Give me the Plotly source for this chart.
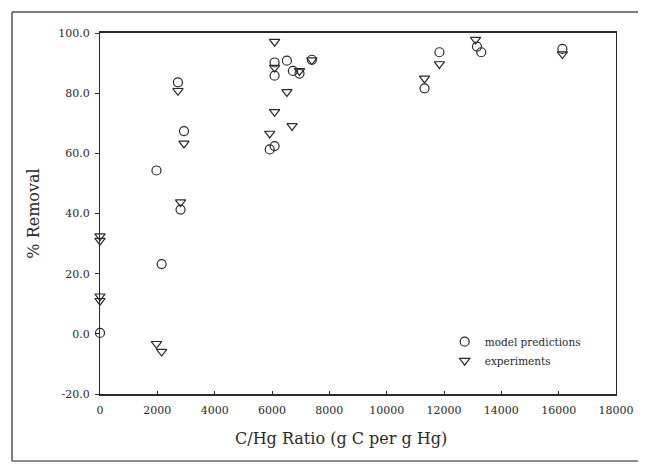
import plotly.graph_objects as go

# model predictions (circles)
model_x = [0, 1970, 2150, 2720, 2810, 2930, 5920, 6090, 6090, 6090, 6520, 6730, 6960, 7390,
           11320, 11840, 13150, 13300, 16130]
model_y = [0.3, 54.3, 23.2, 83.6, 41.3, 67.4, 61.3, 62.4, 85.8, 90.2, 90.8, 87.4, 86.5, 91.1,
           81.6, 93.6, 95.5, 93.6, 94.7]

# experiments (triangles)
exp_x = [0, 0, 0, 0, 1970, 2150, 2720, 2810, 2930, 5920, 6090, 6090, 6090, 6520, 6700, 6960,
         7390, 11320, 11840, 13100, 16130]
exp_y = [32.5, 31.0, 12.5, 11.0, -3.3, -5.9, 80.8, 43.8, 63.3, 66.6, 73.8, 97.1, 88.5, 80.4,
         69.1, 87.4, 91.0, 84.9, 89.7, 97.8, 93.0]

x_ticks = [0, 2000, 4000, 6000, 8000, 10000, 12000, 14000, 16000, 18000]
y_ticks = [-20, 0, 20, 40, 60, 80, 100]

FONT = "DejaVu Serif"
INK = "#2a2a2a"

fig = go.Figure()
fig.add_trace(go.Scatter(
    x=model_x, y=model_y, mode="markers", name="model predictions",
    marker=dict(symbol="circle-open", size=9, color=INK, line=dict(width=1.2, color=INK)),
    cliponaxis=False,
))
fig.add_trace(go.Scatter(
    x=exp_x, y=exp_y, mode="markers", name="experiments",
    marker=dict(symbol="triangle-down-open", size=9, color=INK, line=dict(width=1.2, color=INK)),
    cliponaxis=False,
))

# plot area spans 516 x 361 px; outer frame edges expressed relative to it
PW, PH = 516, 361
fl, fr, ft, fb = -88 / PW, (642 - 100) / PW, (394 - 12) / PH, -(461 - 394) / PH
frame = [
    dict(x0=fl, x1=fr, y0=ft, y1=ft, color="#555"),
    dict(x0=fl, x1=fr, y0=fb, y1=fb, color="#666"),
    dict(x0=fl, x1=fl, y0=fb, y1=ft, color="#555"),
    dict(x0=fr, x1=fr, y0=fb, y1=ft, color="#bbb"),
]
shapes = [dict(type="line", xref="paper", yref="paper", x0=f["x0"], x1=f["x1"],
               y0=f["y0"], y1=f["y1"], line=dict(color=f["color"], width=1.5), layer="below")
          for f in frame]

# page body has an 8px margin, so the figure is offset by 8px right and down
fig.update_layout(
    width=646, height=464,
    margin=dict(l=92, r=38, t=25, b=78),
    paper_bgcolor="white", plot_bgcolor="white",
    font=dict(family=FONT, size=11, color=INK),
    showlegend=True,
    legend=dict(x=0.668, y=0.185, xanchor="left", yanchor="top",
                bgcolor="rgba(0,0,0,0)", font=dict(family=FONT, size=10.5, color=INK),
                itemwidth=30, tracegroupgap=0),
    xaxis=dict(range=[0, 18000], tickvals=x_ticks, ticktext=[str(v) for v in x_ticks],
               showgrid=False, zeroline=False, showline=True, linewidth=2, linecolor=INK,
               mirror=True, ticks="inside", ticklen=3, tickcolor=INK,
               tickfont=dict(family=FONT, size=11, color=INK), ticklabelstandoff=5),
    yaxis=dict(range=[-20, 100], tickvals=y_ticks, ticktext=[f"{v:.1f}" for v in y_ticks],
               showgrid=False, zeroline=False, showline=True, linewidth=1.2, linecolor=INK,
               mirror=True, ticks="outside", ticklen=4, tickcolor=INK,
               tickfont=dict(family=FONT, size=11, color=INK), ticklabelstandoff=3,
               title=dict(text="% Removal", font=dict(family=FONT, size=16, color=INK),
                          standoff=14)),
    annotations=[dict(text="C/Hg Ratio (g C per g Hg)", xref="paper", yref="paper",
                      x=(341 - 100) / PW, y=-(438 - 394) / PH, xanchor="center", yanchor="middle",
                      showarrow=False, font=dict(family=FONT, size=16, color=INK))],
    shapes=shapes,
)

fig.write_html("out.html")
